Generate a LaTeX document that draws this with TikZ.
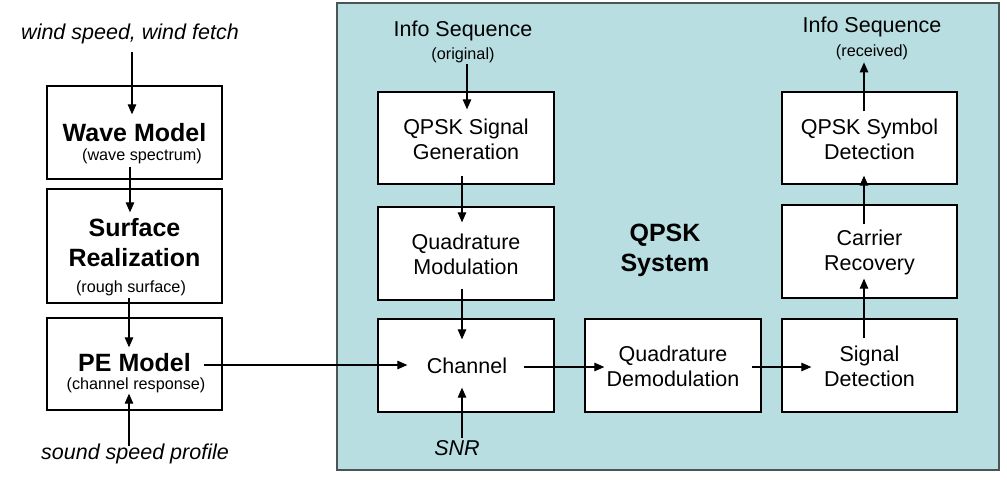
\documentclass[tikz,border=0pt]{standalone}
\usepackage{fontspec}
\setmainfont{Liberation Sans}
\usetikzlibrary{arrows.meta,calc}
\definecolor{tealbg}{HTML}{B8DEE2}
\definecolor{tealedge}{HTML}{4A5656}
\begin{document}
\begin{tikzpicture}[x=1pt,y=-1pt,
  box/.style={draw=black,line width=1.3pt,fill=white,minimum width=175pt,minimum height=93pt,inner sep=0pt},
  arr/.style={line width=1.1pt,-{Triangle[length=10pt,width=8.5pt]}},
  txt/.style={inner sep=0pt,align=center,font=\fontsize{21.5}{25}\selectfont},
  ttl/.style={inner sep=0pt,align=center,font=\fontsize{25}{30}\selectfont\bfseries},
  sub/.style={inner sep=0pt,font=\fontsize{16.2}{18}\selectfont},
  ital/.style={inner sep=0pt,font=\fontsize{21.5}{25}\selectfont\itshape}]
\useasboundingbox (0,0) rectangle (1007,485);
\fill[white] (0,0) rectangle (1007,485);
% QPSK system background
\node[draw=tealedge,line width=1.8pt,fill=tealbg,minimum width=662pt,minimum height=467pt,inner sep=0pt] (sys) at (668,236.5) {};
% left column
\node[box] (wave) at (134.5,132.5) {};
\node[box,minimum height=114pt] (surf) at (134.5,246) {};
\node[box,minimum height=92pt] (pe) at (134.5,364) {};
\node[ttl] (wavet) at (134.5,133) {Wave Model};
\node[sub] (waves) at (142,156) {(wave spectrum)};
\node[ttl] (surft) at (134.5,243) {Surface\\Realization};
\node[sub] (surfs) at (131,288) {(rough surface)};
\node[ttl] (pet) at (134.5,363) {PE Model};
\node[sub] (pes) at (136,385) {(channel response)};
\node[ital] (wind) at (130,34) {wind speed, wind fetch};
\node[ital] (ssp) at (135,454) {sound speed profile};
% QPSK boxes
\node[box,minimum width=176pt,minimum height=92pt] (gen) at (466,138) {};
\node[box,minimum width=176pt] (mod) at (466,253.5) {};
\node[box,minimum width=176pt] (chan) at (466,365.5) {};
\node[box,minimum width=176pt] (demod) at (673,365.5) {};
\node[box] (sig) at (869.5,365.5) {};
\node[box] (car) at (869.5,251.5) {};
\node[box,minimum height=92pt] (sym) at (869.5,138) {};
\node[txt] (gent) at (466,139) {QPSK Signal\\Generation};
\node[txt] (modt) at (466,254) {Quadrature\\Modulation};
\node[txt] (chant) at (467,366) {Channel};
\node[txt] (demodt) at (673,366) {Quadrature\\Demodulation};
\node[txt] (sigt) at (869.5,366) {Signal\\Detection};
\node[txt] (cart) at (869.5,252) {Carrier\\Recovery};
\node[txt] (symt) at (869.5,139) {QPSK Symbol\\Detection};
\node[ttl] (systxt) at (665,250) {QPSK\\System};
\node[txt] (infoin) at (463,31) {Info Sequence};
\node[sub] (infoins) at (463,55) {(original)};
\node[txt] (infoout) at (872,27) {Info Sequence};
\node[sub] (infoouts) at (872,52) {(received)};
\node[ital] (snr) at (457,448) {SNR};
% connectors
\draw[arr] ($(wave.north)+(-2.5,-33)$) -- ($(wave.north)+(-2.5,29)$);
\draw[arr] ($(wave.south)+(-4.5,-13)$) -- ($(surf.north)+(-4.5,24)$);
\draw[arr] ($(surf.south)+(-5.5,-6)$) -- ($(pe.north)+(-5.5,30)$);
\draw[arr] ($(pe.south)+(-5.5,35)$) -- ($(pe.south)+(-5.5,-17)$);
\draw[arr] ($(pe.east)+(-19,1)$) -- ($(chan.west)+(30,-0.5)$);
\draw[arr] ($(gen.north)+(1,-27)$) -- ($(gen.north)+(1,18)$);
\draw[arr] ($(gen.south)+(-4,-9)$) -- ($(mod.north)+(-4,16)$);
\draw[arr] ($(mod.south)+(-4,-12)$) -- ($(chan.north)+(-4,21)$);
\draw[arr] ($(chan.south)+(-4,25)$) -- ($(chan.south)+(-4,-25)$);
\draw[arr] ($(chan.east)+(-31,1.5)$) -- ($(demod.west)+(20,1.5)$);
\draw[arr] ($(demod.east)+(-10,1.5)$) -- ($(sig.west)+(30,1.5)$);
\draw[arr] ($(sig.north)+(-5.5,20)$) -- ($(car.south)+(-5.5,-20)$);
\draw[arr] ($(car.north)+(-5.5,20)$) -- ($(sym.south)+(-5.5,-9)$);
\draw[arr] ($(sym.north)+(-5.5,20)$) -- ($(sym.north)+(-5.5,-29)$);
\end{tikzpicture}
\end{document}
